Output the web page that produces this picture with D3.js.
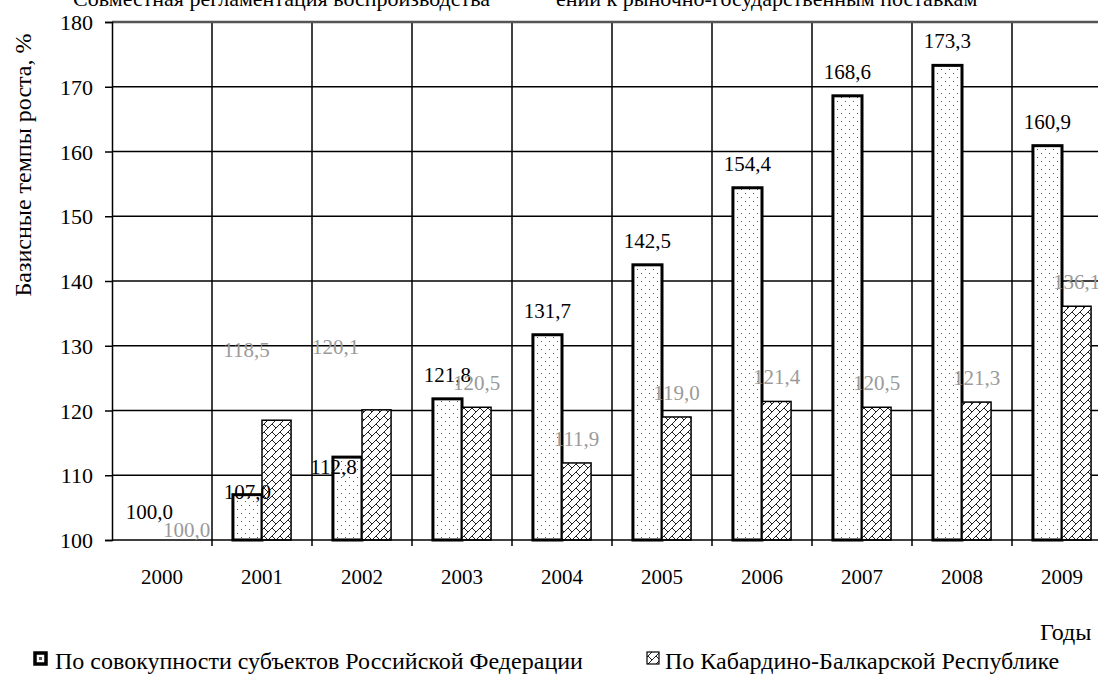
<!DOCTYPE html>
<html>
<head>
<meta charset="utf-8">
<script src="https://cdn.jsdelivr.net/npm/d3@7/dist/d3.min.js"></script>
<style>
    body { margin: 0; background: #fff; overflow: hidden; }
    svg text { font-family: "Liberation Serif", "Times New Roman", Times, "DejaVu Serif", serif !important; }
</style>
</head>
<body>
<div id="chart"></div>
<script>
// years on the x axis
var years = ["2000", "2001", "2002", "2003", "2004", "2005", "2006", "2007", "2008", "2009"];
// base growth rates, %
var russiaValues = [100.0, 107.0, 112.8, 121.8, 131.7, 142.5, 154.4, 168.6, 173.3, 160.9];
var kbrValues = [100.0, 118.5, 120.1, 120.5, 111.9, 119.0, 121.4, 120.5, 121.3, 136.1];
var yTicks = [100, 110, 120, 130, 140, 150, 160, 170, 180];
var seriesNames = ["По совокупности субъектов Российской Федерации", "По Кабардино-Балкарской Республике"];

var width = 1098, height = 676;
var serif = "'Liberation Serif', 'Times New Roman', Times, 'DejaVu Serif', serif";

var svg = d3.select("#chart").append("svg")
    .attr("width", width)
    .attr("height", height)
    .attr("font-family", serif)
    .style("display", "block");

// fill patterns
var defs = svg.append("defs");

var dots = defs.append("pattern")
    .attr("id", "dots")
    .attr("patternUnits", "userSpaceOnUse")
    .attr("width", 8).attr("height", 8);
dots.append("rect").attr("width", 8).attr("height", 8).attr("fill", "#fff");
dots.append("rect").attr("x", 1).attr("y", 1).attr("width", 1).attr("height", 1).attr("fill", "#555");
dots.append("rect").attr("x", 5).attr("y", 5).attr("width", 1).attr("height", 1).attr("fill", "#555");

var brick = defs.append("pattern")
    .attr("id", "brick")
    .attr("patternUnits", "userSpaceOnUse")
    .attr("width", 8).attr("height", 8);
brick.append("rect").attr("width", 8).attr("height", 8).attr("fill", "#fff");
brick.append("path")
    .attr("d", "M-1,9 L9,-1 M-1,1 L1,-1 M7,9 L9,7 M0,0 L4,4")
    .attr("stroke", "#222")
    .attr("stroke-width", 1)
    .attr("fill", "none");

// clipped line of document text at the very top
svg.append("text")
    .attr("x", 490).attr("y", 6)
    .attr("text-anchor", "end")
    .style("font-size", "22px")
    .text("Совместная регламентация воспроизводства");
svg.append("text")
    .attr("x", 556).attr("y", 6)
    .style("font-size", "22px")
    .text("ений к рыночно-государственным поставкам");

// scales
var x = d3.scaleBand()
    .domain(years)
    .range([112, 1112])
    .padding(0);

var xInner = d3.scaleBand()
    .domain([0, 1])
    .range([0, x.bandwidth()])
    .paddingInner(0)
    .paddingOuter(0.72);

var y = d3.scaleLinear()
    .domain([100, 180])
    .range([540, 22]);

// grid
svg.append("g").selectAll("line.h")
    .data(yTicks.slice(1, -1))
    .enter().append("line")
    .attr("x1", 112).attr("x2", width)
    .attr("y1", function(d) { return y(d); })
    .attr("y2", function(d) { return y(d); })
    .attr("stroke", "#000")
    .attr("stroke-width", 1.5);

svg.append("g").selectAll("line.v")
    .data(years.slice(1))
    .enter().append("line")
    .attr("x1", function(d) { return x(d); })
    .attr("x2", function(d) { return x(d); })
    .attr("y1", y(180)).attr("y2", y(100) + 6)
    .attr("stroke", "#000")
    .attr("stroke-width", 1.5);

// top border
svg.append("line")
    .attr("x1", 112).attr("x2", width)
    .attr("y1", y(180)).attr("y2", y(180))
    .attr("stroke", "#555")
    .attr("stroke-width", 2.5);

// bars
var bars = svg.append("g");
bars.selectAll("rect.ru")
    .data(russiaValues)
    .enter().append("rect")
    .attr("class", "ru")
    .attr("x", function(d, i) { return x(years[i]) + xInner(0); })
    .attr("width", xInner.bandwidth())
    .attr("y", function(d) { return y(d); })
    .attr("height", function(d) { return y(100) - y(d); })
    .attr("fill", "url(#dots)")
    .attr("stroke", "#000")
    .attr("stroke-width", 3);

bars.selectAll("rect.kbr")
    .data(kbrValues)
    .enter().append("rect")
    .attr("class", "kbr")
    .attr("x", function(d, i) { return x(years[i]) + xInner(1); })
    .attr("width", xInner.bandwidth())
    .attr("y", function(d) { return y(d); })
    .attr("height", function(d) { return y(100) - y(d); })
    .attr("fill", "url(#brick)")
    .attr("stroke", "#000")
    .attr("stroke-width", 1.5);

// axes
var yAxis = d3.axisLeft(y).tickValues(yTicks).tickSize(7).tickFormat(d3.format("d"));
var gy = svg.append("g")
    .attr("transform", "translate(112,0)")
    .call(yAxis)
    .attr("font-family", serif);
gy.select(".domain").attr("stroke-width", 1.5);
gy.selectAll(".tick line").attr("stroke-width", 1.5);
gy.selectAll(".tick text")
    .attr("x", -19)
    .attr("dy", "0.35em")
    .style("font-size", "22px")
    .attr("fill", "#000");

svg.append("line")
    .attr("x1", 112).attr("x2", width)
    .attr("y1", y(100)).attr("y2", y(100))
    .attr("stroke", "#000")
    .attr("stroke-width", 1.5);

svg.append("g").selectAll("text")
    .data(years)
    .enter().append("text")
    .attr("x", function(d) { return x(d) + x.bandwidth() / 2; })
    .attr("y", 584)
    .attr("text-anchor", "middle")
    .style("font-size", "21px")
    .text(function(d) { return d; });

// value labels (some were moved by hand in the original)
var fmt = function(v) { return v.toFixed(1).replace(".", ","); };
var ruShift = { "2000": [2, -4], "2001": [0, 21], "2002": [-14, 34] };
var kbrShift = { "2000": [10, 14], "2001": [-30, -46], "2002": [-41, -39] };

svg.append("g").selectAll("text")
    .data(russiaValues)
    .enter().append("text")
    .attr("x", function(d, i) {
        var s = ruShift[years[i]] || [0, 0];
        return x(years[i]) + xInner(0) + xInner.bandwidth() / 2 + s[0];
    })
    .attr("y", function(d, i) {
        var s = ruShift[years[i]] || [0, 0];
        return y(d) - 17 + s[1];
    })
    .attr("text-anchor", "middle")
    .style("font-size", "21px")
    .attr("fill", "#000")
    .text(fmt);

svg.append("g").selectAll("text")
    .data(kbrValues)
    .enter().append("text")
    .attr("x", function(d, i) {
        var s = kbrShift[years[i]] || [0, 0];
        return x(years[i]) + xInner(1) + xInner.bandwidth() / 2 + s[0];
    })
    .attr("y", function(d, i) {
        var s = kbrShift[years[i]] || [0, 0];
        return y(d) - 17 + s[1];
    })
    .attr("text-anchor", "middle")
    .style("font-size", "21px")
    .attr("fill", "#9a9a9a")
    .text(fmt);

// axis titles
svg.append("text")
    .attr("transform", "translate(31,165) rotate(-90)")
    .attr("text-anchor", "middle")
    .style("font-size", "24px")
    .text("Базисные темпы роста, %");

svg.append("text")
    .attr("x", 1040).attr("y", 640)
    .style("font-size", "24px")
    .text("Годы");

// legend
var legend = svg.append("g");
legend.append("rect")
    .attr("x", 35).attr("y", 653).attr("width", 11).attr("height", 11)
    .attr("fill", "#fff")
    .attr("stroke", "#000").attr("stroke-width", 3.5);
legend.append("rect")
    .attr("x", 39).attr("y", 657).attr("width", 3).attr("height", 3)
    .attr("fill", "#555");
legend.append("text")
    .attr("x", 55).attr("y", 669)
    .style("font-size", "24px")
    .text(seriesNames[0]);

legend.append("rect")
    .attr("x", 647).attr("y", 652).attr("width", 12).attr("height", 12)
    .attr("fill", "url(#brick)")
    .attr("stroke", "#000").attr("stroke-width", 1.2);
legend.append("text")
    .attr("x", 665).attr("y", 669)
    .style("font-size", "24px")
    .text(seriesNames[1]);
</script>
</body>
</html>
